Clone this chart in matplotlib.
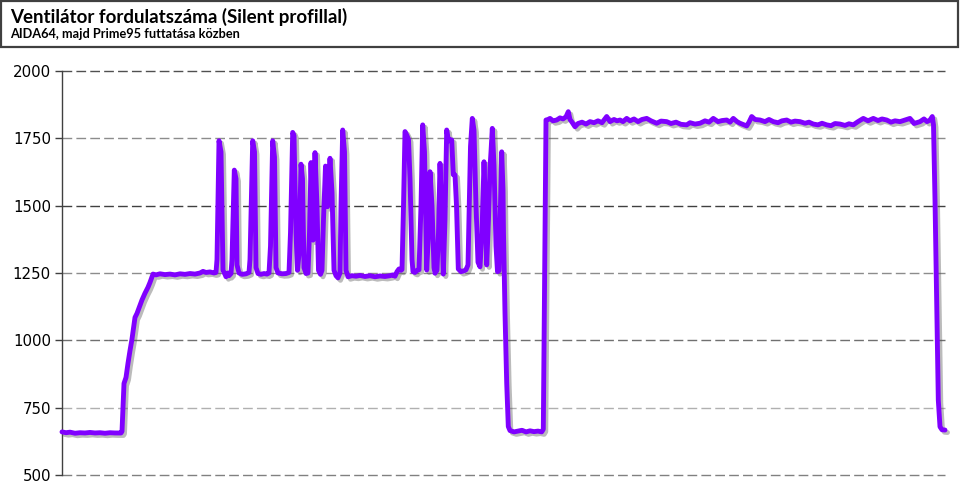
# ============================================
# Fan speed chart (Silent profile) - AIDA64, then Prime95
# ============================================

import matplotlib
matplotlib.use('Agg')
import matplotlib.pyplot as plt
import matplotlib.patheffects as pe
from matplotlib.patches import Rectangle
import numpy as np

# ============================================
# 1. Data (time in seconds, fan speed in rpm)
# ============================================

title = "Ventilátor fordulatszáma (Silent profillal)"
subtitle = "AIDA64, majd Prime95 futtatása közben"
y_ticks = [500, 750, 1000, 1250, 1500, 1750, 2000]

# 1.1 idle, then ramp-up when AIDA64 starts
idle_t = [0, 4, 8, 13, 18, 23, 28, 33, 38, 43, 48, 53, 59, 60, 62, 64, 66, 68, 70,
          72, 73, 75, 78, 80, 83, 86, 88, 91, 94, 98, 103, 108, 113, 118, 123,
          128, 133, 138, 141, 144, 148, 152, 154]
idle_rpm = [660, 657, 659, 655, 657, 656, 658, 656, 657, 655, 657, 656, 656, 662,
            840, 862, 915, 962, 1005, 1058, 1085, 1100, 1130, 1150, 1175, 1197,
            1215, 1246, 1243, 1247, 1244, 1246, 1243, 1247, 1245, 1248, 1246,
            1250, 1256, 1252, 1254, 1250, 1252]

# 1.2 AIDA64 stress test - first burst of spikes
aida1_t = [155, 157, 159, 161, 163, 164, 166, 167, 169, 170, 172.3, 174, 175, 177,
           180, 184, 187, 188, 190.7, 192.5, 194, 196, 199, 202, 205, 207, 208.5,
           210.7, 212.5, 214, 216, 220, 224, 227, 228.5, 230.7, 232, 234, 235.5,
           237, 239, 240.5, 242, 244, 246, 247.5, 249, 251, 253, 255, 256.5,
           258.5, 260, 261.5, 263.5, 265.5, 268, 270, 272, 274, 276, 278, 279,
           280.7, 282.5, 284, 286]
aida1_rpm = [1300, 1741, 1700, 1260, 1245, 1236, 1250, 1240, 1248, 1300, 1632, 1600,
             1280, 1250, 1245, 1247, 1252, 1300, 1741, 1700, 1270, 1248, 1245,
             1248, 1246, 1250, 1350, 1741, 1680, 1270, 1250, 1247, 1248, 1252,
             1400, 1772, 1760, 1400, 1260, 1320, 1654, 1600, 1270, 1248, 1250,
             1400, 1660, 1372, 1697, 1500, 1260, 1245, 1260, 1450, 1647, 1496,
             1676, 1550, 1260, 1240, 1232, 1250, 1500, 1781, 1700, 1260, 1236]

# 1.3 quiet gap between the two bursts
gap_t = [290, 294, 298, 303, 308, 313, 318, 323, 328, 331, 333, 335, 337, 339, 340]
gap_rpm = [1240, 1238, 1241, 1237, 1240, 1236, 1239, 1237, 1240, 1243, 1238, 1255,
           1265, 1260, 1263]

# 1.4 AIDA64 stress test - second burst of spikes
aida2_t = [341.5, 343, 345, 346.5, 348, 350, 351, 353, 355, 357, 359, 360.7, 362.5,
           364.7, 366.5, 368, 370, 372, 373, 375, 376.5, 378, 379.5, 381.3, 383,
           384.7, 386.5, 388, 389.7, 391.3, 393, 394.5, 396.3, 399, 402, 404, 406,
           407.5, 408.5, 410.3, 412, 414, 416, 418, 420, 422, 423.5, 424.7, 426.5,
           428, 429, 430.3, 432, 434, 435.5, 437, 438.5, 439.7, 441, 441.5, 443,
           444.7, 446.3]
aida2_rpm = [1500, 1775, 1760, 1745, 1600, 1300, 1255, 1252, 1260, 1262, 1500, 1800,
             1700, 1261, 1400, 1626, 1500, 1270, 1249, 1260, 1400, 1657, 1500,
             1246, 1450, 1781, 1740, 1745, 1744, 1615, 1614, 1500, 1265, 1255,
             1258, 1262, 1280, 1550, 1720, 1824, 1780, 1500, 1290, 1273, 1400,
             1663, 1500, 1280, 1450, 1640, 1700, 1787, 1650, 1350, 1255, 1258,
             1500, 1700, 1560, 1398, 1100, 841, 680]

# 1.5 pause before Prime95
pause_t = [448, 452, 456, 460, 464, 468, 472, 476, 479.7, 481.3]
pause_rpm = [665, 660, 663, 666, 660, 664, 661, 663, 660, 670]

# 1.6 Prime95 full load, then stop
prime_t = [482.5, 484, 486, 488, 491, 494.7, 498, 501, 504, 506.3, 508, 510, 513,
           516, 520, 524, 528, 532, 536, 540, 544.7, 548, 552, 555, 558, 561,
           564.7, 568, 572, 576, 580, 584.7, 589, 594.7, 599, 604.7, 609, 614,
           619, 624.7, 628, 633, 638, 643, 647, 651.3, 656, 660, 664.7, 668,
           671.3, 675, 678, 684.7, 687, 689.7, 693, 698, 703, 707, 711.3, 716,
           720, 724.7, 729, 733, 738, 743, 747, 751.3, 756, 760, 764.7, 769, 773,
           778, 783, 787, 791.3, 796, 801.3, 806, 811.3, 816, 820, 824.7, 829,
           833, 838, 843, 848, 852, 858, 862, 865, 868, 870.3, 871.5, 873, 874.7,
           876.3, 878, 880, 883]
prime_rpm = [1200, 1818, 1820, 1824, 1815, 1818, 1826, 1822, 1830, 1849, 1820, 1810,
             1793, 1805, 1810, 1803, 1812, 1808, 1815, 1808, 1831, 1812, 1820,
             1815, 1818, 1812, 1824, 1815, 1822, 1812, 1820, 1824, 1815, 1806,
             1814, 1812, 1805, 1810, 1802, 1800, 1808, 1803, 1806, 1815, 1810,
             1824, 1812, 1816, 1818, 1810, 1824, 1812, 1806, 1796, 1810, 1831,
             1820, 1818, 1812, 1820, 1812, 1808, 1815, 1818, 1810, 1814, 1812,
             1806, 1810, 1803, 1800, 1806, 1800, 1797, 1805, 1803, 1798, 1804,
             1800, 1812, 1824, 1815, 1824, 1816, 1822, 1818, 1810, 1815, 1812,
             1818, 1824, 1805, 1812, 1822, 1812, 1818, 1831, 1800, 1521, 1150,
             778, 679, 668, 667]

t = np.concatenate([idle_t, aida1_t, gap_t, aida2_t, pause_t, prime_t])
rpm = np.concatenate([idle_rpm, aida1_rpm, gap_rpm, aida2_rpm, pause_rpm, prime_rpm])

# ============================================
# 2. Figure and title box
# ============================================

fig = plt.figure(figsize=(9.6, 5), dpi=100)

# framed header on top (pixel coords turned into figure fractions)
fig.patches.append(Rectangle((1 / 960, 1 - 47 / 500), 957 / 960, 46 / 500,
                             transform=fig.transFigure, fill=False,
                             edgecolor='#404040', linewidth=1.6))
fig.text(10 / 960, 1 - 23 / 500, title, fontsize=13.5, fontweight='bold',
         family='Lato', va='baseline', ha='left')
fig.text(10 / 960, 1 - 38 / 500, subtitle, fontsize=9.2, fontweight='bold',
         family='Lato', va='baseline', ha='left')

# ============================================
# 3. Plot
# ============================================

ax = fig.add_axes([62 / 960, 25 / 500, 883 / 960, 404 / 500])

# dashed horizontal grid, shades differ a bit like in the original
grid_colors = ['#808080', '#b0b0b0', '#707070', '#8c8c8c', '#404040', '#8c8c8c', '#505050']
for val, col in zip(y_ticks, grid_colors):
    ax.axhline(val, color=col, linewidth=1, dashes=(7, 3), zorder=1, clip_on=False)

ax.plot(t, rpm, color='#8000ff', linewidth=3.5, solid_joinstyle='round',
        solid_capstyle='round', zorder=3, clip_on=False,
        path_effects=[pe.SimpleLineShadow(offset=(1.8, -1.8), shadow_color='#555555', alpha=0.4),
                      pe.Normal()])

ax.set_xlim(0, 883)
ax.set_ylim(500, 2000)
ax.set_yticks(y_ticks)
ax.set_yticklabels([str(v) for v in y_ticks], fontsize=10.8, family='DejaVu Sans')
ax.set_xticks([])

for side in ['top', 'right', 'bottom']:
    ax.spines[side].set_visible(False)
ax.spines['left'].set_color('#404040')
ax.spines['left'].set_linewidth(1)
ax.tick_params(axis='y', direction='out', length=5, width=1, color='#404040', pad=3)

plt.savefig('out.png', dpi=100)
